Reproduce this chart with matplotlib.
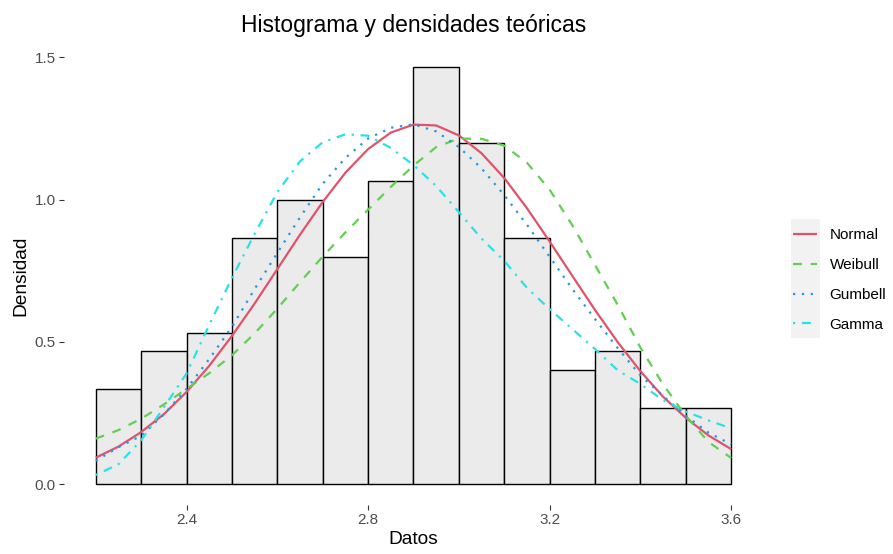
import matplotlib
matplotlib.use('Agg')
import matplotlib.pyplot as plt
from matplotlib.patches import Rectangle

plt.rcParams['font.family'] = ['Liberation Sans', 'DejaVu Sans']

# Histogram (density scale), bins of width 0.1 from 2.2 to 3.6
bin_left = [2.2, 2.3, 2.4, 2.5, 2.6, 2.7, 2.8, 2.9, 3.0, 3.1, 3.2, 3.3, 3.4, 3.5]
bin_width = 0.1
hist_density = [0.333, 0.467, 0.533, 0.867, 1.0, 0.8, 1.067, 1.467,
                1.2, 0.867, 0.4, 0.467, 0.267, 0.267]

# Fitted theoretical densities evaluated on a grid
x_grid = [2.20, 2.25, 2.30, 2.35, 2.40, 2.45, 2.50, 2.55, 2.60, 2.65,
          2.70, 2.75, 2.80, 2.85, 2.90, 2.95, 3.00, 3.05, 3.10, 3.15,
          3.20, 3.25, 3.30, 3.35, 3.40, 3.45, 3.50, 3.55, 3.60]
dens_normal = [0.093, 0.132, 0.183, 0.246, 0.324, 0.416, 0.521, 0.635, 0.756, 0.877,
               0.992, 1.095, 1.178, 1.236, 1.264, 1.261, 1.226, 1.163, 1.076, 0.970,
               0.853, 0.732, 0.612, 0.499, 0.397, 0.307, 0.233, 0.171, 0.123]
dens_weibull = [0.160, 0.190, 0.230, 0.280, 0.335, 0.390, 0.453, 0.530, 0.617, 0.710,
                0.800, 0.885, 0.965, 1.045, 1.120, 1.185, 1.215, 1.214, 1.190, 1.130,
                1.035, 0.910, 0.770, 0.630, 0.480, 0.350, 0.240, 0.148, 0.092]
dens_gumbel = [0.082, 0.130, 0.170, 0.245, 0.335, 0.440, 0.553, 0.686, 0.813, 0.938,
               1.056, 1.147, 1.215, 1.253, 1.265, 1.240, 1.185, 1.110, 1.016, 0.912,
               0.799, 0.686, 0.580, 0.478, 0.382, 0.310, 0.240, 0.181, 0.140]
dens_gamma = [0.032, 0.070, 0.154, 0.270, 0.389, 0.560, 0.725, 0.880, 1.027, 1.135,
              1.202, 1.230, 1.225, 1.182, 1.122, 1.048, 0.956, 0.863, 0.785, 0.690,
              0.615, 0.545, 0.475, 0.400, 0.352, 0.295, 0.255, 0.224, 0.196]

curve_labels = ['Normal', 'Weibull', 'Gumbell', 'Gamma']
curve_colors = ['#DF536B', '#61D04F', '#2297E6', '#28E2E5']
curve_dashes = [None, (4, 4), (1, 3), (1, 3, 4, 3)]
curves = [dens_normal, dens_weibull, dens_gumbel, dens_gamma]

W, H = 893, 554
fig = plt.figure(figsize=(W / 100, H / 100), dpi=100)
ax = fig.add_axes([64 / W, 1 - 505 / H, (763 - 64) / W, (505 - 46) / H])

ax.bar(bin_left, hist_density, width=bin_width, align='edge',
       color='#EBEBEB', edgecolor='black', linewidth=1.0, zorder=1)

lw = 1.6
handles = []
for y, lab, col, dash in zip(curves, curve_labels, curve_colors, curve_dashes):
    line, = ax.plot(x_grid, y, color=col, lw=lw, label=lab, zorder=2,
                    solid_capstyle='butt', dash_capstyle='butt',
                    solid_joinstyle='round')
    if dash is not None:
        line.set_dashes(dash)
    handles.append(line)

# ggplot-like 5% expansion of the scales
x_lo, x_hi = bin_left[0], bin_left[-1] + bin_width
pad_x = 0.05 * (x_hi - x_lo)
ax.set_xlim(x_lo - pad_x, x_hi + pad_x)
y_hi = max(hist_density)
ax.set_ylim(-0.05 * y_hi, 1.05 * y_hi)

ax.set_xticks([2.4, 2.8, 3.2, 3.6])
ax.set_xticklabels(['2.4', '2.8', '3.2', '3.6'])
ax.set_yticks([0.0, 0.5, 1.0, 1.5])
ax.set_yticklabels(['0.0', '0.5', '1.0', '1.5'])
ax.tick_params(length=3.4, width=0.8, color='#333333', labelcolor='#4D4D4D',
               labelsize=11, pad=2.5)
for s in ax.spines.values():
    s.set_visible(False)

ax.set_xlabel('Datos', fontsize=13.75, labelpad=3)
ax.set_ylabel('Densidad', fontsize=13.75, labelpad=4)
ax.set_title('Histograma y densidades teóricas', fontsize=16.5, pad=10)

# legend keys sit on a light grey strip
fig.add_artist(Rectangle((790.7 / W, 1 - 338 / H), 29.3 / W, 119 / H,
                         transform=fig.transFigure, facecolor='#F2F2F2',
                         edgecolor='none', zorder=0))
ax.legend(handles=handles, loc='center left',
          bbox_to_anchor=(792.7 / W, 1 - 280 / H), bbox_transform=fig.transFigure,
          frameon=False, borderpad=0, borderaxespad=0, handlelength=1.57,
          handletextpad=0.85, labelspacing=1.03, fontsize=11)

fig.savefig('out.png', dpi=100)
